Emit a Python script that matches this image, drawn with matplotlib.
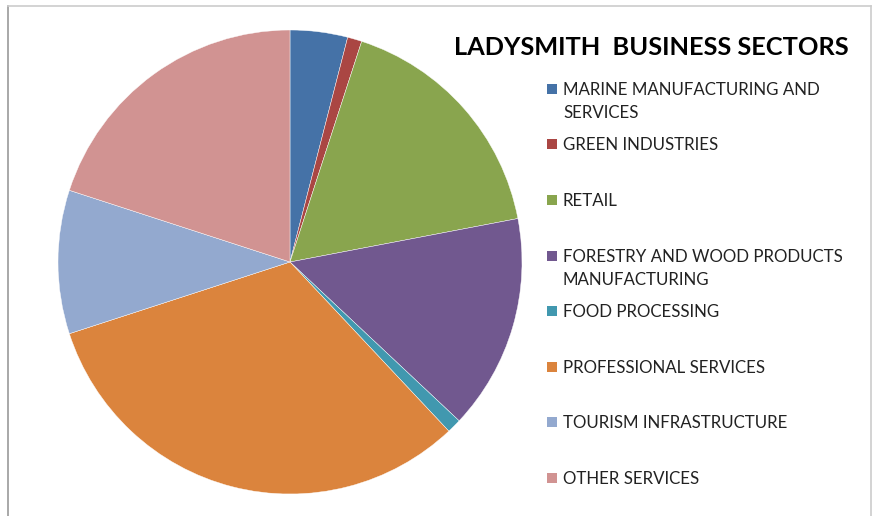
import matplotlib.pyplot as plt
from matplotlib.patches import Rectangle
from matplotlib.lines import Line2D

sectors = [
    "MARINE MANUFACTURING AND\nSERVICES",
    "GREEN INDUSTRIES",
    "RETAIL",
    "FORESTRY AND WOOD PRODUCTS\nMANUFACTURING",
    "FOOD PROCESSING",
    "PROFESSIONAL SERVICES",
    "TOURISM INFRASTRUCTURE",
    "OTHER SERVICES",
]
shares = [4, 1, 17, 15, 1, 32, 10, 20]
colors = ["#4572A7", "#AA4643", "#89A54E", "#71588F",
          "#4198AF", "#DB843D", "#93A9CF", "#D19392"]

W, H = 876, 516
fig = plt.figure(figsize=(W / 100, H / 100), dpi=100)
plt.rcParams['font.family'] = ['Lato', 'DejaVu Sans']

# pie centered at (290, 262) px, radius 232 px
cx, cy, r = 290, 262, 232
ax = fig.add_axes([(cx - r) / W, (H - cy - r) / H, 2 * r / W, 2 * r / H])
ax.pie(shares, colors=colors, startangle=90, counterclock=False,
       radius=1.0, wedgeprops=dict(linewidth=0.3, edgecolor="white"))
ax.set_xlim(-1, 1)
ax.set_ylim(-1, 1)
ax.set_aspect("equal")
ax.axis("off")

# chart frame (left, top, right)
fig.add_artist(Line2D([7.5 / W, 7.5 / W], [0, 1 - 5.5 / H], transform=fig.transFigure,
                      color="#999999", lw=1.2))
fig.add_artist(Line2D([7.5 / W, 870.5 / W], [1 - 5.5 / H, 1 - 5.5 / H],
                      transform=fig.transFigure, color="#cccccc", lw=1.2))
fig.add_artist(Line2D([870.5 / W, 870.5 / W], [0, 1 - 5.5 / H], transform=fig.transFigure,
                      color="#cccccc", lw=1.2))

fig.text(651 / W, 1 - 48 / H, "LADYSMITH  BUSINESS SECTORS", ha="center", va="center",
         fontsize=18.3, fontweight="bold", color="black")

# legend: first-line y position of each entry (px from top)
legend_y = [88, 143, 199, 255, 310, 366, 421, 477]
for label, col, y in zip(sectors, colors, legend_y):
    fig.add_artist(Rectangle((547 / W, 1 - (y + 6) / H), 10 / W, 10 / H,
                             transform=fig.transFigure, facecolor=col, edgecolor="none"))
    fig.text(563 / W, 1 - (y - 6) / H, label, ha="left", va="top",
             fontsize=12.2, color="#222222", linespacing=1.55)

fig.savefig("out.png", dpi=100)
